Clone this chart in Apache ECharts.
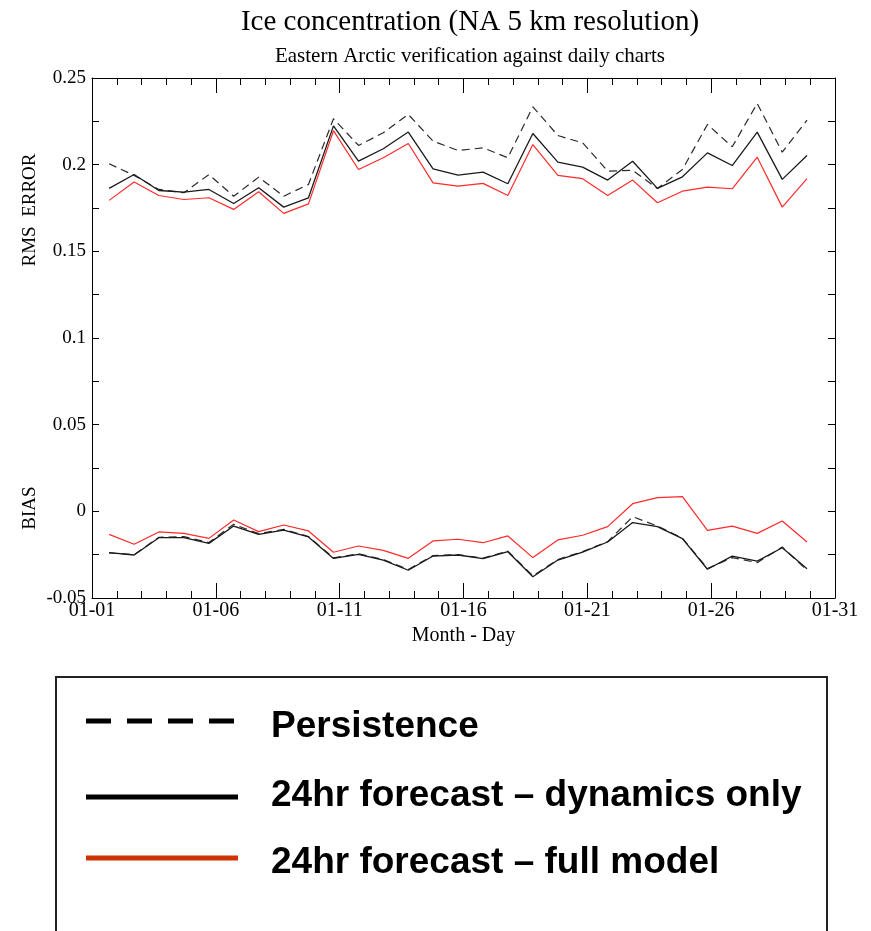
<!DOCTYPE html>
<html><head><meta charset="utf-8">
<script src="https://cdn.jsdelivr.net/npm/echarts@6/dist/echarts.min.js"></script>
<style>html,body{margin:0;padding:0;background:#fff}#c{width:871px;height:931px}</style>
</head><body><div id="c"></div><script>
// x position of each verification in days after 01-01 00:00
const dayPos = [0.69,1.70,2.70,3.71,4.72,5.72,6.73,7.74,8.74,9.75,10.76,11.76,12.77,13.77,14.78,15.79,16.79,17.80,18.81,19.81,20.82,21.83,22.83,23.84,24.85,25.85,26.86,27.87,28.87];
const seriesNames = ['Persistence', '24hr forecast \u2013 dynamics only', '24hr forecast \u2013 full model'];
const persistRms = [0.2005,0.1938,0.1857,0.1838,0.1943,0.1818,0.1928,0.1818,0.1886,0.2265,0.2111,0.2184,0.2290,0.2136,0.2082,0.2097,0.2040,0.2334,0.2168,0.2126,0.1963,0.1967,0.1863,0.1972,0.2232,0.2103,0.2353,0.2072,0.2257];
const dynRms = [0.1863,0.1943,0.1851,0.1842,0.1857,0.1776,0.1867,0.1755,0.1809,0.2224,0.2020,0.2092,0.2188,0.1976,0.1940,0.1957,0.1890,0.2180,0.2015,0.1986,0.1911,0.2020,0.1863,0.1930,0.2068,0.1995,0.2188,0.1915,0.2053];
const fullRms = [0.1794,0.1900,0.1822,0.1799,0.1809,0.1742,0.1844,0.1719,0.1774,0.2196,0.1972,0.2040,0.2122,0.1895,0.1876,0.1892,0.1822,0.2116,0.1938,0.1919,0.1822,0.1911,0.1780,0.1847,0.1870,0.1861,0.2043,0.1755,0.1919];
const persistBias = [-0.0240,-0.0250,-0.0150,-0.0146,-0.0180,-0.0075,-0.0128,-0.0104,-0.0145,-0.0268,-0.0245,-0.0278,-0.0335,-0.0255,-0.0250,-0.0270,-0.0230,-0.0372,-0.0278,-0.0232,-0.0175,-0.0031,-0.0085,-0.0155,-0.0330,-0.0267,-0.0296,-0.0206,-0.0340];
const dynBias = [-0.0238,-0.0252,-0.0152,-0.0152,-0.0185,-0.0085,-0.0133,-0.0108,-0.0148,-0.0272,-0.0248,-0.0281,-0.0340,-0.0258,-0.0252,-0.0273,-0.0233,-0.0377,-0.0281,-0.0235,-0.0177,-0.0065,-0.0088,-0.0157,-0.0334,-0.0258,-0.0287,-0.0210,-0.0331];
const fullBias = [-0.0133,-0.0190,-0.0119,-0.0127,-0.0156,-0.0050,-0.0117,-0.0079,-0.0113,-0.0236,-0.0200,-0.0225,-0.0271,-0.0171,-0.0161,-0.0181,-0.0142,-0.0267,-0.0165,-0.0138,-0.0088,0.0044,0.0079,0.0085,-0.0110,-0.0085,-0.0127,-0.0056,-0.0177];

const SERIF = '"Liberation Serif", "Times New Roman", serif';
const SANS = '"Liberation Sans", Arial, sans-serif';
const pair = arr => arr.map((v, i) => [dayPos[i], v]);
const styles = [
  {color: '#2a2a2a', width: 1.2, type: [8, 5]},
  {color: '#1a1a1a', width: 1.3, type: 'solid'},
  {color: '#ff2a2a', width: 1.2, type: 'solid'}
];
const mk = (name, data, st) => ({
  type: 'line', name, data: pair(data), showSymbol: false, symbol: 'none',
  lineStyle: st, itemStyle: {color: st.color}, silent: true, z: 3
});
const xBase = {
  type: 'value', min: 0, max: 30, interval: 5,
  axisLine: {show: true, onZero: false, lineStyle: {color: '#000', width: 1}},
  axisTick: {show: true, inside: true, length: 15, lineStyle: {color: '#000'}},
  minorTick: {show: true, splitNumber: 5, length: 7, lineStyle: {color: '#000'}},
  splitLine: {show: false}
};
const yBase = {
  type: 'value', min: -0.05, max: 0.25, interval: 0.05,
  axisLine: {show: true, onZero: false, lineStyle: {color: '#000', width: 1}},
  axisTick: {show: true, inside: true, length: 7, lineStyle: {color: '#000'}},
  minorTick: {show: true, splitNumber: 2, length: 7, lineStyle: {color: '#000'}},
  splitLine: {show: false}
};
const chart = echarts.init(document.getElementById('c'), null, {renderer: 'canvas'});
chart.setOption({
  backgroundColor: '#fff',
  animation: false,
  title: [
    {text: 'Ice concentration (NA 5 km resolution)', left: 465, top: 3, textAlign: 'center',
     textStyle: {fontFamily: SERIF, fontSize: 29, fontWeight: 'normal', color: '#000'}},
    {text: 'Eastern Arctic verification against daily charts', left: 465, top: 41, textAlign: 'center',
     textStyle: {fontFamily: SERIF, fontSize: 21, fontWeight: 'normal', color: '#000'}}
  ],
  grid: {left: 92, top: 78, width: 743, height: 520, containLabel: false},
  xAxis: [
    Object.assign({}, xBase, {position: 'bottom',
      name: 'Month - Day', nameLocation: 'middle', nameGap: 26,
      nameTextStyle: {fontFamily: SERIF, fontSize: 20, color: '#000'},
      axisLabel: {show: true, margin: 3, fontFamily: SERIF, fontSize: 20, color: '#000',
        formatter: v => '01-' + String(Math.round(v) + 1).padStart(2, '0')}}),
    Object.assign({}, xBase, {position: 'top', axisLabel: {show: false}})
  ],
  yAxis: [
    Object.assign({}, yBase, {position: 'left',
      axisLabel: {show: true, margin: 6, fontFamily: SERIF, fontSize: 19, color: '#000',
        formatter: v => String(parseFloat(v.toFixed(3)))}}),
    Object.assign({}, yBase, {position: 'right', axisLabel: {show: false}})
  ],
  series: [
    mk(seriesNames[0], persistRms, styles[0]),
    mk(seriesNames[1], dynRms, styles[1]),
    mk(seriesNames[2], fullRms, styles[2]),
    mk(seriesNames[0], persistBias, styles[0]),
    mk(seriesNames[1], dynBias, styles[1]),
    mk(seriesNames[2], fullBias, styles[2])
  ],
  graphic: [
    {type: 'text', x: 30, y: 210, rotation: Math.PI / 2,
     style: {text: 'RMS  ERROR', font: '19px ' + SERIF, fill: '#000', align: 'center', verticalAlign: 'middle'}},
    {type: 'text', x: 30, y: 508, rotation: Math.PI / 2,
     style: {text: 'BIAS', font: '19px ' + SERIF, fill: '#000', align: 'center', verticalAlign: 'middle'}},
    {type: 'rect', shape: {x: 56, y: 677, width: 771, height: 300},
     style: {fill: '#fff', stroke: '#222', lineWidth: 2}},
    {type: 'line', shape: {x1: 86, y1: 721, x2: 238, y2: 721},
     style: {stroke: '#000', lineWidth: 5, lineDash: [25, 16]}},
    {type: 'line', shape: {x1: 86, y1: 797, x2: 238, y2: 797},
     style: {stroke: '#000', lineWidth: 5}},
    {type: 'line', shape: {x1: 86, y1: 858, x2: 238, y2: 858},
     style: {stroke: '#cc3300', lineWidth: 5}},
    {type: 'text', x: 271, y: 727,
     style: {text: seriesNames[0], font: 'bold 37px ' + SANS, fill: '#000', verticalAlign: 'middle'}},
    {type: 'text', x: 271, y: 796,
     style: {text: seriesNames[1], font: 'bold 37px ' + SANS, fill: '#000', verticalAlign: 'middle'}},
    {type: 'text', x: 271, y: 863,
     style: {text: seriesNames[2], font: 'bold 37px ' + SANS, fill: '#000', verticalAlign: 'middle'}}
  ]
});
</script></body></html>
